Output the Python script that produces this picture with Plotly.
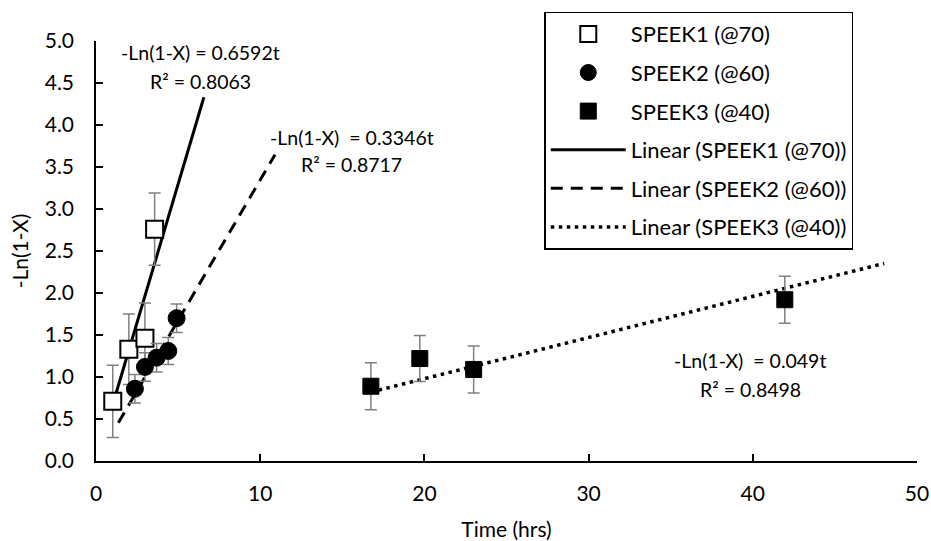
import plotly.graph_objects as go

# ---- data ----
s1_t = [1.02, 2.0, 2.98, 3.57]
s1_y = [0.71, 1.33, 1.46, 2.76]
s1_err = [0.43, 0.42, 0.42, 0.43]

s2_t = [2.37, 2.98, 3.69, 4.40, 4.91]
s2_y = [0.86, 1.12, 1.23, 1.31, 1.70]
s2_err = [0.17, 0.17, 0.17, 0.16, 0.17]

s3_t = [16.74, 19.72, 23.0, 41.95]
s3_y = [0.89, 1.22, 1.09, 1.92]
s3_err = [0.28, 0.275, 0.28, 0.28]

# trendlines y = k t, drawn over the t ranges shown
k1, r1, t1_range = 0.6592, 0.8063, [1.02, 6.57]
k2, r2, t2_range = 0.3346, 0.8717, [1.36, 10.9]
k3, r3, t3_range = 0.049, 0.8498, [16.74, 48.0]

names = ["SPEEK1 (@70)", "SPEEK2 (@60)", "SPEEK3 (@40)"]

FONT = "Lato"
FS = 21
FS_ANN = 19.5
FS_LEG = 22
ERR = "#808080"

fig = go.Figure()

def err(vals):
    return dict(type="data", array=vals, visible=True, color=ERR, thickness=1.5, width=6)

# trendlines first (drawn underneath)
fig.add_trace(go.Scatter(x=t1_range, y=[k1 * t for t in t1_range], mode="lines",
                         name="Linear (" + names[0] + ")", legendgroup="d", legendrank=4,
                         line=dict(color="black", width=3)))
fig.add_trace(go.Scatter(x=t2_range, y=[k2 * t for t in t2_range], mode="lines",
                         name="Linear (" + names[1] + ")", legendgroup="e", legendrank=5,
                         line=dict(color="black", width=3, dash="12px,8px")))
fig.add_trace(go.Scatter(x=t3_range, y=[k3 * t for t in t3_range], mode="lines",
                         name="Linear (" + names[2] + ")", legendgroup="f", legendrank=6,
                         line=dict(color="black", width=3.5, dash="3.5px,4.5px")))

fig.add_trace(go.Scatter(x=s1_t, y=s1_y, mode="markers", name=names[0], legendgroup="a",
                         legendrank=1,
                         marker=dict(symbol="square", size=17, color="white",
                                     line=dict(color="black", width=2)),
                         error_y=err(s1_err)))
fig.add_trace(go.Scatter(x=s2_t, y=s2_y, mode="markers", name=names[1], legendgroup="b",
                         legendrank=2,
                         marker=dict(symbol="circle", size=17, color="black",
                                     line=dict(color="black", width=1)),
                         error_y=err(s2_err)))
fig.add_trace(go.Scatter(x=s3_t, y=s3_y, mode="markers", name=names[2], legendgroup="c",
                         legendrank=3,
                         marker=dict(symbol="square", size=16, color="black",
                                     line=dict(color="black", width=1)),
                         error_y=err(s3_err)))

ann = [
    (6.39, 4.86, "-Ln(1-X) = %.4ft" % k1),
    (6.39, 4.52, "R² = %.4f" % r1),
    (15.58, 3.85, "-Ln(1-X)\u00a0\u00a0= %.4ft" % k2),
    (15.58, 3.53, "R² = %.4f" % r2),
    (39.8, 1.20, "-Ln(1-X)\u00a0\u00a0= %.3ft" % k3),
    (39.85, 0.857, "R² = %.4f" % r3),
]
for x, y, t in ann:
    fig.add_annotation(x=x, y=y, text=t, showarrow=False, xanchor="center", yanchor="middle",
                       font=dict(family=FONT, size=FS_ANN, color="black"))

fig.update_layout(
    width=931, height=541,
    margin=dict(l=96, r=13.5, t=35, b=80),
    paper_bgcolor="white", plot_bgcolor="white",
    font=dict(family=FONT, size=FS, color="black"),
    showlegend=True,
    legend=dict(x=0.546, y=1.07, xanchor="left", yanchor="top",
                bordercolor="black", borderwidth=1.5, bgcolor="white",
                font=dict(family=FONT, size=FS_LEG, color="black"),
                tracegroupgap=7, itemwidth=75, traceorder="grouped"),
    xaxis=dict(range=[0, 50], dtick=10, showgrid=False, zeroline=False, automargin=False,
               showline=True, linecolor="black", linewidth=1.5,
               ticks="inside", ticklen=7, tickwidth=1.5, tickcolor="black",
               ticklabelstandoff=13,
               title=dict(text="Time (hrs)", standoff=24, font=dict(size=FS))),
    yaxis=dict(range=[0, 5], dtick=0.5, tickformat=".1f", showgrid=False, zeroline=False,
               automargin=False,
               showline=True, linecolor="black", linewidth=1.5,
               ticks="inside", ticklen=7, tickwidth=1.5, tickcolor="black",
               ticklabelstandoff=16,
               title=dict(text="-Ln(1-X)", standoff=10, font=dict(size=FS))),
)

fig.write_html("out.html")
